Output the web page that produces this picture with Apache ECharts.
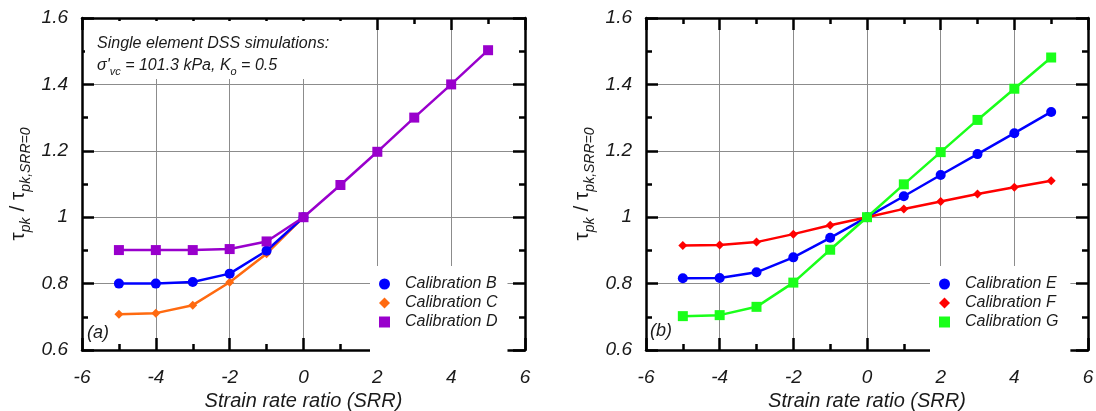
<!DOCTYPE html>
<html>
<head>
<meta charset="utf-8">
<script src="https://cdn.jsdelivr.net/npm/echarts@6/dist/echarts.min.js"></script>
<style>
html,body{margin:0;padding:0;background:#fff;}
#c{width:1096px;height:411px;}
</style>
</head>
<body>
<div id="c"></div>
<script>
// ---- data ----
const srr = [-5, -4, -3, -2, -1, 0, 1, 2, 3, 4, 5];
const calB = [0.800, 0.800, 0.805, 0.830, 0.899, 1.000];
const calC = [0.708, 0.711, 0.735, 0.804, 0.890, 1.000];
const calD = [0.901, 0.901, 0.901, 0.904, 0.927, 1.000, 1.097, 1.197, 1.300, 1.400, 1.503];
const calE = [0.816, 0.817, 0.834, 0.879, 0.938, 1.000, 1.063, 1.127, 1.190, 1.253, 1.317];
const calF = [0.915, 0.916, 0.925, 0.949, 0.976, 1.000, 1.025, 1.047, 1.070, 1.090, 1.110];
const calG = [0.702, 0.705, 0.730, 0.803, 0.902, 1.000, 1.099, 1.196, 1.293, 1.387, 1.481];
const xRange = [-6, 6];
const yRange = [0.6, 1.6];
const xLabel = 'Strain rate ratio (SRR)';
const panelTags = ['(a)', '(b)'];
const noteLine1 = 'Single element DSS simulations:';

// ---- styling ----
const FONT = "'Liberation Sans', Arial, sans-serif";
const pairs = (ys) => ys.map((v, i) => [srr[i], v]);
const axisLineStyle = { color: '#000', width: 2.5 };
const gridColor = '#8c8c8c';

function xAxes(gi) {
  return [
    {
      gridIndex: gi, type: 'value', min: xRange[0], max: xRange[1], interval: 2, position: 'bottom',
      axisLine: { onZero: false, lineStyle: axisLineStyle },
      axisTick: { inside: true, length: 12, lineStyle: axisLineStyle },
      minorTick: { show: true, splitNumber: 2, length: 6, lineStyle: axisLineStyle },
      splitLine: { show: true, lineStyle: { color: gridColor, width: 1 } },
      axisLabel: { fontSize: 19, fontStyle: 'italic', color: '#1a1a1a', margin: 18, fontFamily: FONT },
      name: xLabel, nameLocation: 'middle', nameGap: 33,
      nameTextStyle: { fontSize: 20, fontStyle: 'italic', color: '#1a1a1a', fontFamily: FONT }
    },
    {
      gridIndex: gi, type: 'value', min: xRange[0], max: xRange[1], interval: 2, position: 'top',
      axisLine: { onZero: false, lineStyle: axisLineStyle },
      axisTick: { inside: true, length: 12, lineStyle: axisLineStyle },
      minorTick: { show: true, splitNumber: 2, length: 6, lineStyle: axisLineStyle },
      splitLine: { show: false }, axisLabel: { show: false }
    }
  ];
}
function yAxes(gi) {
  return [
    {
      gridIndex: gi, type: 'value', min: yRange[0], max: yRange[1], interval: 0.2, position: 'left',
      axisLine: { onZero: false, lineStyle: axisLineStyle },
      axisTick: { inside: true, length: 12, lineStyle: axisLineStyle },
      minorTick: { show: true, splitNumber: 2, length: 6, lineStyle: axisLineStyle },
      splitLine: { show: true, lineStyle: { color: gridColor, width: 1 } },
      axisLabel: { fontSize: 19, fontStyle: 'italic', color: '#1a1a1a', margin: 14, fontFamily: FONT },
      name: '{t|τ}{s|pk}{t| / τ}{s|pk,SRR=0}', nameLocation: 'middle', nameGap: 49,
      nameTextStyle: {
        color: '#1a1a1a', fontFamily: FONT,
        rich: {
          t: { fontSize: 21, lineHeight: 30, verticalAlign: 'middle', color: '#1a1a1a', fontFamily: FONT },
          s: { fontSize: 14, lineHeight: 30, verticalAlign: 'bottom', fontStyle: 'italic', color: '#1a1a1a', fontFamily: FONT }
        }
      }
    },
    {
      gridIndex: gi, type: 'value', min: yRange[0], max: yRange[1], interval: 0.2, position: 'right',
      axisLine: { onZero: false, lineStyle: axisLineStyle },
      axisTick: { inside: true, length: 12, lineStyle: axisLineStyle },
      minorTick: { show: true, splitNumber: 2, length: 6, lineStyle: axisLineStyle },
      splitLine: { show: false }, axisLabel: { show: false }
    }
  ];
}

function lineSeries(name, ys, color, symbol, size, xi, yi) {
  return {
    type: 'line', name: name, data: pairs(ys), xAxisIndex: xi, yAxisIndex: yi,
    symbol: symbol, symbolSize: size, showSymbol: true,
    lineStyle: { color: color, width: 2.5 }, itemStyle: { color: color },
    animation: false
  };
}

const legendText = { fontSize: 16, fontStyle: 'italic', color: '#1a1a1a', fontFamily: FONT, padding: [0, 0, 0, 10] };

const option = {
  backgroundColor: '#fff',
  animation: false,
  grid: [
    { left: 82, right: 571, top: 18, bottom: 61, outerBoundsMode: 'none', containLabel: false },
    { left: 646, right: 8, top: 18, bottom: 61, outerBoundsMode: 'none', containLabel: false }
  ],
  xAxis: [...xAxes(0), ...xAxes(1)],
  yAxis: [...yAxes(0), ...yAxes(1)],
  legend: [
    {
      left: 370, top: 266, orient: 'vertical', backgroundColor: '#fff',
      padding: [10, 10, 24, 9], itemGap: 3, itemWidth: 11, itemHeight: 11,
      textStyle: legendText, selectedMode: false,
      data: [
        { name: 'Calibration B', icon: 'circle' },
        { name: 'Calibration C', icon: 'diamond' },
        { name: 'Calibration D', icon: 'rect' }
      ]
    },
    {
      left: 930, top: 266, orient: 'vertical', backgroundColor: '#fff',
      padding: [10, 12, 24, 9], itemGap: 3, itemWidth: 11, itemHeight: 11,
      textStyle: legendText, selectedMode: false,
      data: [
        { name: 'Calibration E', icon: 'circle' },
        { name: 'Calibration F', icon: 'diamond' },
        { name: 'Calibration G', icon: 'rect' }
      ]
    }
  ],
  series: [
    lineSeries('Calibration C', calC, '#ff6a10', 'diamond', 9, 0, 0),
    lineSeries('Calibration B', calB, '#0000ff', 'circle', 10, 0, 0),
    lineSeries('Calibration D', calD, '#9900cc', 'rect', 10, 0, 0),
    lineSeries('Calibration E', calE, '#0000ff', 'circle', 10, 2, 2),
    lineSeries('Calibration F', calF, '#ff0000', 'diamond', 9, 2, 2),
    lineSeries('Calibration G', calG, '#1aff1a', 'rect', 10, 2, 2)
  ],
  graphic: [
    { type: 'rect', left: 85, top: 21, shape: { width: 258, height: 58 }, style: { fill: '#fff' }, z: 5 },
    {
      type: 'text', left: 97, top: 33, z: 6,
      style: {
        text: noteLine1 + '\n{n|σ\'}{sub|vc}{n| = 101.3 kPa, K}{sub|o}{n| = 0.5}',
        font: "italic 16px " + FONT, fill: '#1a1a1a', lineHeight: 22,
        rich: {
          n: { fontSize: 16, fontStyle: 'italic', lineHeight: 22, verticalAlign: 'middle', fontFamily: FONT, color: '#1a1a1a' },
          sub: { fontSize: 11, fontStyle: 'italic', lineHeight: 22, verticalAlign: 'bottom', fontFamily: FONT, color: '#1a1a1a' }
        }
      }
    },
    { type: 'text', left: 87, top: 324, z: 6, style: { text: panelTags[0], font: "italic 18px " + FONT, fill: '#1a1a1a' } },
    { type: 'text', left: 650, top: 322, z: 6, style: { text: panelTags[1], font: "italic 18px " + FONT, fill: '#1a1a1a' } }
  ]
};

const chart = echarts.init(document.getElementById('c'), null, { renderer: 'canvas' });
chart.setOption(option);
</script>
</body>
</html>
